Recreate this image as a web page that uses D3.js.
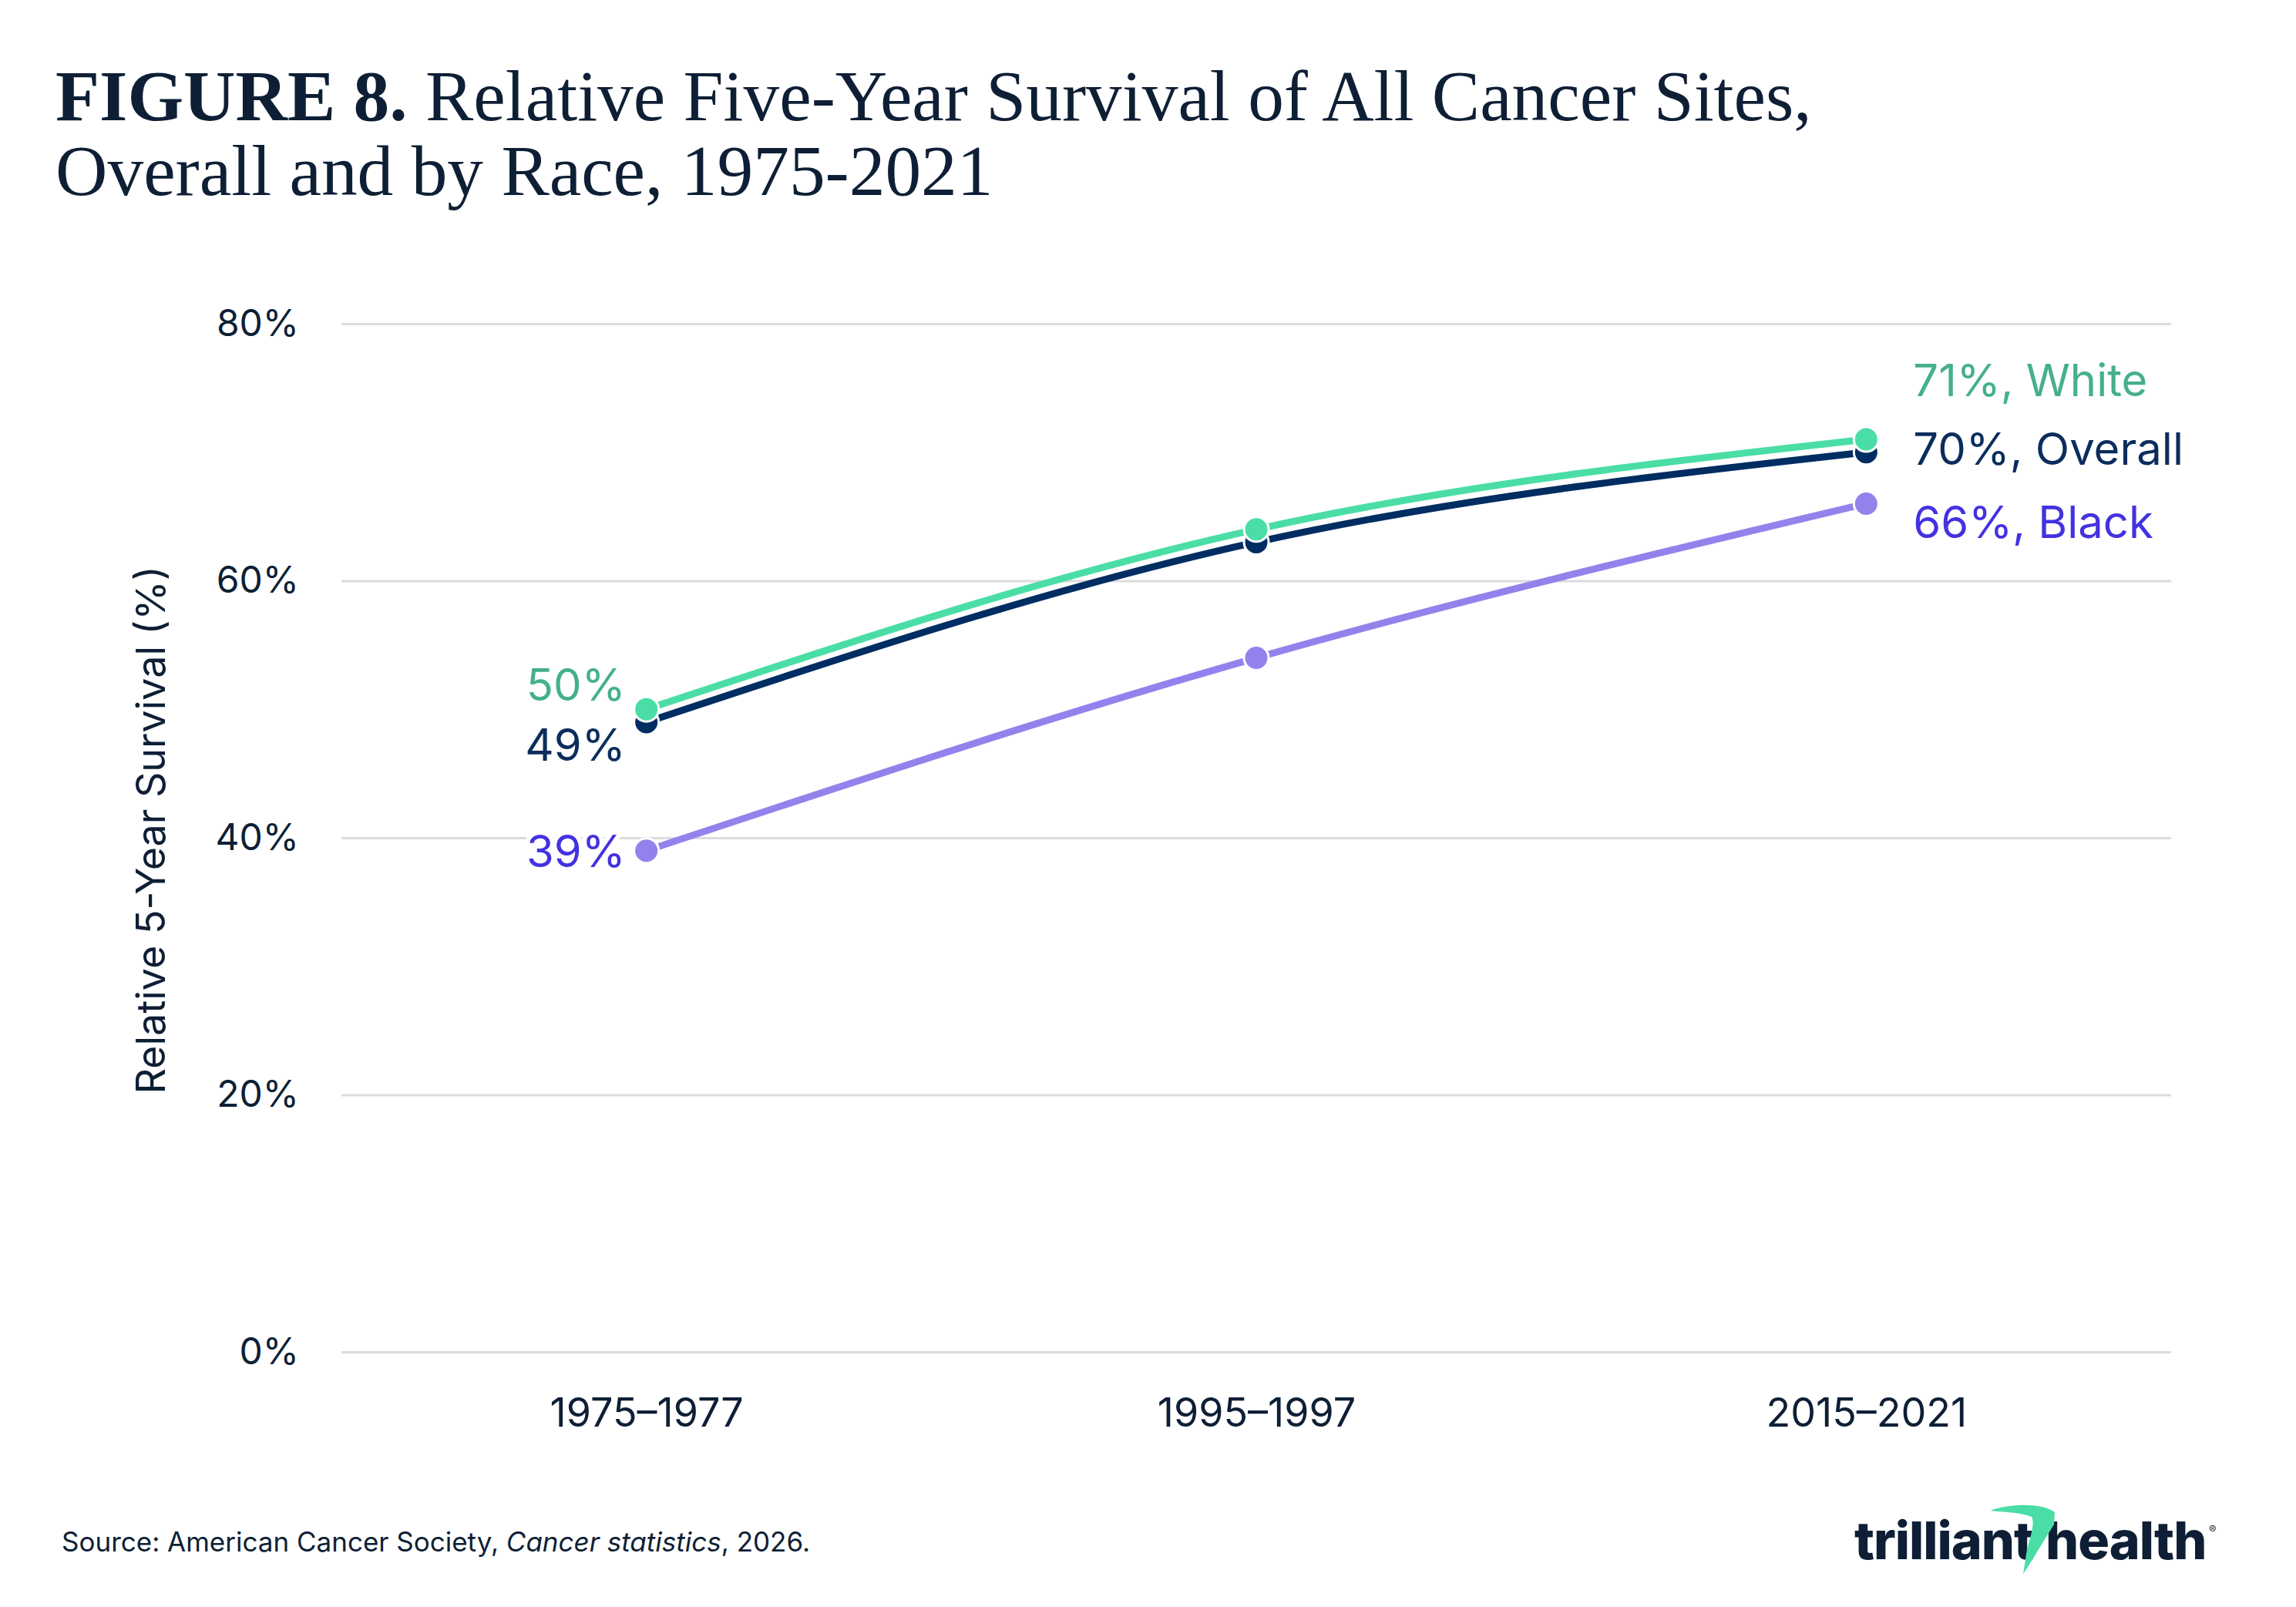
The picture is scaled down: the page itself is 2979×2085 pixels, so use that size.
<!DOCTYPE html>
<html>
<head>
<meta charset="utf-8">
<script src="https://cdn.jsdelivr.net/npm/d3@7"></script>
<style>
  body { margin: 0; background: #fff; }
  text { font-family: Inter, "Open Sans", sans-serif; }
</style>
</head>
<body>
<svg id="chart"></svg>
<script>
const periods = ['1975–1977', '1995–1997', '2015–2021']
const overallValues = [49, 63, 70]
const whiteValues = [50, 64, 71]
const blackValues = [39, 54, 66]
const yTicks = [0, 20, 40, 60, 80]

const width = 2979
const height = 2085
const margin = {left: 443, right: 162, top: 420, bottom: 331}
const ink = '#0e1f35'
const mint = '#4adea6'

const series = [
    {name: 'Overall', values: overallValues, line: '#002d62', text: '#0b2d5c', leftDy: 29, rightDy: -5},
    {name: 'White', values: whiteValues, line: mint, text: '#45b08a', leftDy: -32, rightDy: -77},
    {name: 'Black', values: blackValues, line: '#9283ec', text: '#4332e0', leftDy: 0, rightDy: 24},
]

const svg = d3.select('#chart').attr('width', width).attr('height', height)

const xScale = d3.scalePoint().domain(periods).range([margin.left, width - margin.right]).padding(0.5)
const yScale = d3.scaleLinear().domain([0, 80]).range([height - margin.bottom, margin.top])

// title, sized so both lines land near the reference widths
const title = svg.append('text')
    .attr('x', 72).attr('y', 156)
    .style('font-family', '"Liberation Serif", serif').attr('fill', ink)
title.append('tspan').attr('font-weight', 'bold').text('FIGURE 8.')
title.append('tspan').text(' Relative Five-Year Survival of All Cancer Sites,')
const title2 = svg.append('text')
    .attr('x', 72).attr('y', 253)
    .style('font-family', '"Liberation Serif", serif').attr('fill', ink)
    .text('Overall and by Race, 1975-2021')
title.attr('font-size', 100)
title2.attr('font-size', 100)
const k1 = 2205 / title.node().getComputedTextLength()
const k2 = 1256 / title2.node().getComputedTextLength()
const fs = 100 * (k1 + k2) / 2
title.attr('font-size', fs)
title2.attr('font-size', fs)

// grid + y axis
const yAxis = svg.append('g')
    .attr('transform', `translate(${margin.left},0)`)
    .call(d3.axisLeft(yScale).tickValues(yTicks).tickSize(-(width - margin.left - margin.right)).tickPadding(55).tickFormat(d => d + '%'))
yAxis.select('.domain').remove()
yAxis.selectAll('.tick line').attr('stroke', '#dcdcdc').attr('stroke-width', 3)
yAxis.selectAll('.tick text').attr('fill', ink).attr('font-size', 48).style('font-family', 'Inter')

// x axis
const xAxis = svg.append('g')
    .attr('transform', `translate(0,${height - margin.bottom})`)
    .call(d3.axisBottom(xScale).tickSize(0).tickPadding(60))
xAxis.select('.domain').remove()
xAxis.selectAll('.tick text').attr('fill', ink).attr('font-size', 52).style('font-family', 'Inter')

svg.append('text')
    .attr('transform', 'translate(214,1077) rotate(-90)')
    .attr('text-anchor', 'middle')
    .attr('fill', ink).attr('font-size', 52)
    .text('Relative 5-Year Survival (%)')

// lines
const line = d3.line()
    .x((d, i) => xScale(periods[i]))
    .y(d => yScale(d))
    .curve(d3.curveMonotoneX)

svg.append('g').selectAll('path')
    .data(series)
    .enter()
    .append('path')
    .attr('fill', 'none')
    .attr('stroke', d => d.line)
    .attr('stroke-width', 9)
    .attr('d', d => line(d.values))

svg.append('g').selectAll('g')
    .data(series)
    .enter()
    .append('g')
    .selectAll('circle')
    .data(d => d.values.map((v, i) => ({v, i, color: d.line})))
    .enter()
    .append('circle')
    .attr('cx', d => xScale(periods[d.i]))
    .attr('cy', d => yScale(d.v))
    .attr('r', 16)
    .attr('fill', d => d.color)
    .attr('stroke', '#fff')
    .attr('stroke-width', 3)

// labels
const labels = svg.append('g')
series.forEach(s => {
    const first = s.values[0]
    const last = s.values[s.values.length - 1]
    labels.append('text')
        .attr('x', xScale(periods[0]) - 27)
        .attr('y', yScale(first) + s.leftDy)
        .attr('dy', '0.36em')
        .attr('text-anchor', 'end')
        .attr('font-size', 58)
        .attr('fill', s.text)
        .attr('stroke', '#fff').attr('stroke-width', 12).attr('paint-order', 'stroke')
        .text(`${first}%`)
    labels.append('text')
        .attr('x', xScale(periods[periods.length - 1]) + 61)
        .attr('y', yScale(last) + s.rightDy)
        .attr('dy', '0.36em')
        .attr('font-size', 58)
        .attr('fill', s.text)
        .attr('stroke', '#fff').attr('stroke-width', 12).attr('paint-order', 'stroke')
        .text(`${last}%, ${s.name}`)
})

// source
const src = svg.append('text')
    .attr('x', 80).attr('y', 2013)
    .attr('font-size', 35).attr('fill', ink)
src.append('tspan').text('Source: American Cancer Society, ')
src.append('tspan').attr('font-style', 'italic').text('Cancer statistics')
src.append('tspan').text(', 2026.')

// logo
const logo = svg.append('g')
logo.append('text')
    .attr('x', 2406).attr('y', 2023)
    .attr('font-size', 68).attr('font-weight', 800).attr('fill', ink)
    .attr('letter-spacing', -1)
    .text('trilliant')
logo.append('text')
    .attr('x', 2654).attr('y', 2023)
    .attr('font-size', 68).attr('font-weight', 800).attr('fill', ink)
    .attr('letter-spacing', -1)
    .text('health')
logo.append('path')
    .attr('d', 'M2582,1960 C2610,1950 2650,1950 2666,1962 L2665,1978 C2652,1998 2640,2020 2625,2042 L2630,2010 C2636,1990 2640,1975 2636,1968 C2620,1962 2600,1962 2582,1960 Z')
    .attr('fill', mint)
logo.append('text')
    .attr('x', 2866).attr('y', 1990)
    .attr('font-size', 14).attr('fill', ink)
    .text('®')
</script>
</body>
</html>
